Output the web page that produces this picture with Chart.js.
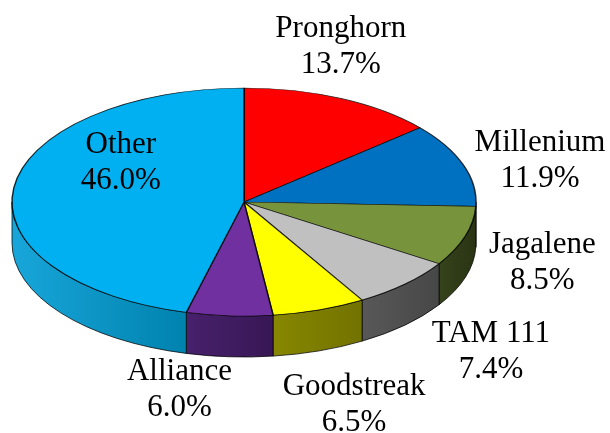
<!DOCTYPE html>
<html><head><meta charset="utf-8">
<script src="https://cdn.jsdelivr.net/npm/chart.js@4.4.0/dist/chart.umd.min.js"></script>
<style>html,body{margin:0;padding:0;background:#fff;overflow:hidden;} #c{display:block;}</style>
</head><body>
<canvas id="c" width="610" height="433"></canvas>
<script>
// ---- data ----
const categories = ['Pronghorn', 'Millenium', 'Jagalene', 'TAM 111', 'Goodstreak', 'Alliance', 'Other'];
const shares = [13.7, 11.9, 8.5, 7.4, 6.5, 6.0, 46.0];
const percentLabels = ['13.7%', '11.9%', '8.5%', '7.4%', '6.5%', '6.0%', '46.0%'];

// ---- styles ----
const topColors = ['#FF0000', '#0070C0', '#77933C', '#C0C0C0', '#FFFF00', '#7030A0', '#00B0F0'];
const sideColors = [
  ['#990000', '#800000'], ['#004a80', '#003d6b'], ['#35431b', '#2a3414'],
  ['#585858', '#474747'], ['#878700', '#727200'], ['#47216c', '#381755'], ['#18a6da', '#0082ae']
];
// tilted-pie projection (ellipse on the page) and label nudges
const PIE = { cx: 244, cy: 202, rx: 232, ry: 114, depth: 41 };
const labelOffsets = [[0, -52], [77, -4], [77, 27], [86, 68], [35, 95], [-50, 74], [107, -25]];
const LABEL_FONT = '31px "Liberation Serif", "Times New Roman", serif';

const tiltPlugin = {
  id: 'tilt',
  beforeDatasetsDraw(chart) {
    const ctx = chart.ctx;
    const meta = chart.getDatasetMeta(0);
    const { cx, cy, rx, ry, depth } = PIE;
    // side walls of the front half, from the library's arc angles
    meta.data.forEach((arc, i) => {
      const a = Math.max(arc.startAngle, 0);
      const b = Math.min(arc.endAngle, Math.PI);
      if (b <= a) return;
      const xa = cx + rx * Math.cos(a), xb = cx + rx * Math.cos(b);
      const g = ctx.createLinearGradient(Math.min(xa, xb), 0, Math.max(xa, xb) + 0.01, 0);
      g.addColorStop(0, sideColors[i][0]);
      g.addColorStop(1, sideColors[i][1]);
      ctx.save();
      ctx.beginPath();
      ctx.ellipse(cx, cy, rx, ry, 0, a, b, false);
      ctx.lineTo(cx + rx * Math.cos(b), cy + ry * Math.sin(b) + depth);
      ctx.ellipse(cx, cy + depth, rx, ry, 0, b, a, true);
      ctx.closePath();
      ctx.fillStyle = g;
      ctx.fill();
      ctx.strokeStyle = 'rgba(0,0,0,0.75)';
      ctx.lineWidth = 1;
      ctx.stroke();
      ctx.restore();
    });
    const el = meta.data[0];
    ctx.save();
    ctx.translate(cx, cy);
    ctx.scale(rx / el.outerRadius, ry / el.outerRadius);
    ctx.translate(-el.x, -el.y);
  },
  afterDatasetsDraw(chart) {
    const ctx = chart.ctx;
    ctx.restore();
    const meta = chart.getDatasetMeta(0);
    const { cx, cy, rx, ry } = PIE;
    ctx.save();
    ctx.font = LABEL_FONT;
    ctx.fillStyle = '#000';
    ctx.textAlign = 'center';
    ctx.textBaseline = 'middle';
    meta.data.forEach((arc, i) => {
      const m = (arc.startAngle + arc.endAngle) / 2;
      const x = cx + rx * Math.cos(m) + labelOffsets[i][0];
      const y = cy + ry * Math.sin(m) + labelOffsets[i][1];
      ctx.fillText(categories[i], x, y - 18);
      ctx.fillText(percentLabels[i], x, y + 18);
    });
    ctx.restore();
  }
};

new Chart(document.getElementById('c'), {
  type: 'pie',
  data: {
    labels: categories,
    datasets: [{
      data: shares,
      backgroundColor: topColors,
      borderColor: 'rgba(0,0,0,0.8)',
      borderWidth: 1.4,
      clip: false
    }]
  },
  options: {
    responsive: false,
    devicePixelRatio: 1,
    animation: false,
    events: [],
    plugins: { legend: { display: false }, tooltip: { enabled: false } }
  },
  plugins: [tiltPlugin]
});
</script>
</body></html>
